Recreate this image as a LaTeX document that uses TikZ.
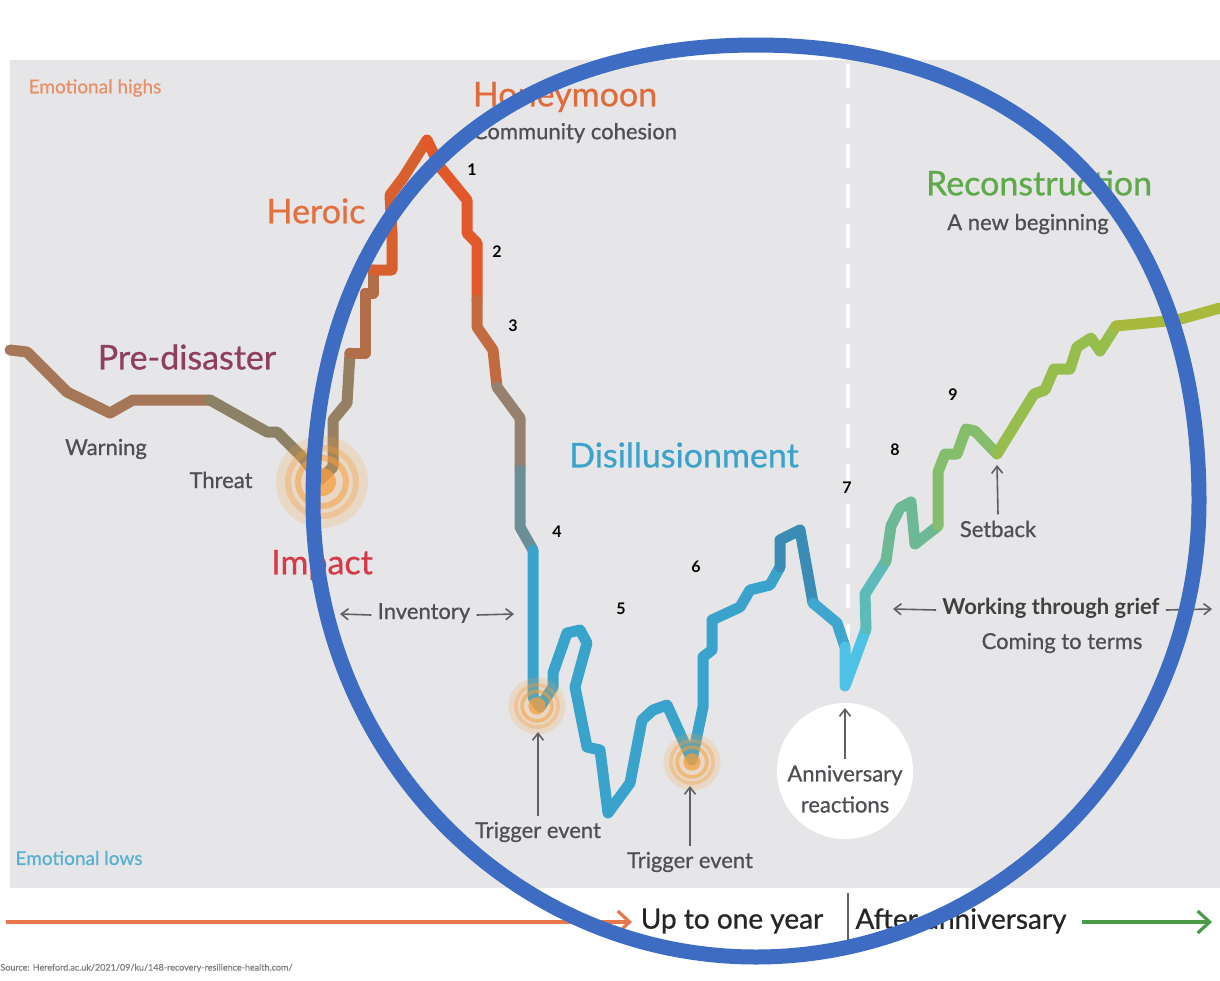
\documentclass[tikz,border=0pt]{standalone}
\usepackage{fontspec}
\setmainfont{Lato}[UprightFeatures={FakeBold=0.7}]
\usetikzlibrary{arrows.meta}
\definecolor{panel}{HTML}{E6E6E8}
\definecolor{txtgray}{HTML}{4E4F53}
\definecolor{arrgray}{HTML}{606064}
\definecolor{honey}{HTML}{E06B3A}
\definecolor{heroicc}{HTML}{E36E3E}
\definecolor{predc}{HTML}{8E3F5E}
\definecolor{impactc}{HTML}{D63A4A}
\definecolor{disc}{HTML}{3AA3CB}
\definecolor{reconc}{HTML}{5FA94B}
\definecolor{ringc}{HTML}{3D6CC2}
\definecolor{hic}{HTML}{E8906A}
\definecolor{loc}{HTML}{5AB0D0}
\definecolor{glowc}{HTML}{F5A040}
\definecolor{tlorange}{HTML}{E8784C}
\definecolor{tlgreen}{HTML}{4A9A4A}
\definecolor{cA}{HTML}{A57658}
\definecolor{cB}{HTML}{8C8066}
\definecolor{cC}{HTML}{958063}
\definecolor{cD}{HTML}{B26E48}
\definecolor{cE}{HTML}{D8602F}
\definecolor{cF}{HTML}{E2582A}
\definecolor{cG}{HTML}{C46A40}
\definecolor{cH}{HTML}{988070}
\definecolor{cI}{HTML}{6C8E98}
\definecolor{cJ}{HTML}{3AA3CC}
\definecolor{cK}{HTML}{3A8CB4}
\definecolor{cL}{HTML}{3FA6D0}
\definecolor{cM}{HTML}{4EC2E4}
\definecolor{cN}{HTML}{5CBAB8}
\definecolor{cO}{HTML}{6DB996}
\definecolor{cP}{HTML}{84BD6C}
\definecolor{cQ}{HTML}{97BE4C}
\definecolor{cR}{HTML}{A8B93C}
\newcommand{\myglow}[3]{%
  \fill[glowc, opacity=0.20] (#1,#2) circle[radius=#3*46];
  \draw[glowc, opacity=0.35, line width=#3*3pt] (#1,#2) circle[radius=#3*34];
  \draw[glowc, opacity=0.55, line width=#3*3pt] (#1,#2) circle[radius=#3*24];
  \fill[glowc, opacity=0.75] (#1,#2) circle[radius=#3*14];
}
\tikzset{
  curve/.style={line width=5.5pt, line join=round, line cap=round},
  biglab/.style={font=\fontsize{17}{20}\selectfont, inner sep=0pt},
  midlab/.style={font=\fontsize{11}{13}\selectfont, text=txtgray, inner sep=0pt},
  numlab/.style={font=\bfseries\fontsize{8}{9}\selectfont, text=black, inner sep=0pt},
  smalllab/.style={font=\fontsize{9.5}{11}\selectfont, inner sep=0pt},
  thinarrow/.style={-{Straight Barb[length=3.5pt,width=5.5pt]}, line width=0.8pt, draw=arrgray},
  tllab/.style={font=\fontsize{14}{16}\selectfont, text=black!85, inner sep=0pt},
  ring/.style={draw=ringc, line width=7.5pt},
}
\begin{document}
\begin{tikzpicture}[x=0.5pt,y=-0.5pt]
\useasboundingbox (0,0) rectangle (1220,980);
\fill[white] (0,0) rectangle (1220,980);
% panel
\fill[panel] (10,60) rectangle (1220,888);
% dashed divider
\draw[white, line width=1.6pt, dash pattern=on 12pt off 8pt] (848,64) -- (848,705);
% anniversary circle
\node[circle, fill=white, minimum size=68pt, inner sep=0pt] (anncirc) at (845,771) {};
% curve
\draw[curve, cA] (10,350) -- (27,352) -- (67,392) -- (110,413) -- (133,400) -- (210,400);
\draw[curve, cB] (210,400) -- (267,432) -- (277,432) -- (302,457) -- (320,480);
\draw[curve, cC] (320,480) -- (333,467) -- (333,420) -- (347,403) -- (350,353);
\draw[curve, cD] (350,353) -- (365,353) -- (365,293) -- (373,293) -- (373,270);
\draw[curve, cE] (373,270) -- (392,270) -- (392,233) -- (390,195) -- (403,178) -- (427,140);
\draw[curve, cF] (427,140) -- (440,167) -- (467,200) -- (467,233) -- (477,243) -- (477,300);
\draw[curve, cG] (477,300) -- (477,327) -- (493,350) -- (497,387);
\draw[curve, cH] (497,387) -- (520,418) -- (520,470);
\draw[curve, cI] (520,470) -- (520,527) -- (533,550);
\draw[curve, cJ] (533,550) -- (533,697) -- (540,707) -- (553,687) -- (553,673) -- (567,633) -- (580,630) -- (587,643) -- (575,687) -- (587,747) -- (600,750) -- (608,813) -- (630,783) -- (642,720) -- (653,710) -- (667,705) -- (692,760) -- (703,707) -- (703,657) -- (712,650) -- (712,620) -- (740,607) -- (750,590) -- (770,585) -- (780,567);
\draw[curve, cK] (780,567) -- (780,540) -- (800,530) -- (813,603);
\draw[curve, cL] (813,603) -- (837,623) -- (845,647);
\draw[curve, cM] (845,647) -- (845,686) -- (866,629);
\draw[curve, cN] (866,629) -- (865,594) -- (886,561);
\draw[curve, cO] (886,561) -- (891,526) -- (900,508) -- (911,502) -- (915,544) -- (938,526);
\draw[curve, cP] (938,526) -- (938,472) -- (945,454) -- (957,454) -- (966,429) -- (975,431) -- (997,454);
\draw[curve, cQ] (997,454) -- (1034,394) -- (1045,390) -- (1054,369) -- (1070,369) -- (1077,347) -- (1091,338) -- (1100,351) -- (1116,326);
\draw[curve, cR] (1116,326) -- (1177,320) -- (1220,308);
% glows
\myglow{322}{482}{1}
\myglow{537}{706}{0.62}
\myglow{692}{762}{0.62}
% corner labels
\node[smalllab, text=hic] (hi) at (95,88) {Emotional highs};
\node[smalllab, text=loc] (lo) at (79,858) {Emotional lows};
% stage labels
\node[biglab, text=honey] (honey) at (565,97) {Honeymoon};
\node[midlab] (cohes) at (575,133) {Community cohesion};
\node[biglab, text=heroicc] (heroic) at (316,211) {Heroic};
\node[biglab, text=predc] (pred) at (187,357) {Pre-disaster};
\node[midlab] (warn) at (106,449) {Warning};
\node[midlab] (threat) at (221,480) {Threat};
\node[biglab, text=impactc] (impact) at (322,565) {Impact};
\node[biglab, text=disc] (dis) at (684,455) {Disillusionment};
\node[biglab, text=reconc] (recon) at (1039,183) {Reconstruction};
\node[midlab] (newb) at (1028,224) {A new beginning};
% inventory
\node[midlab] (inv) at (424,613) {Inventory};
\coordinate (invL) at (340,614);
\coordinate (invR) at (514,614);
\draw[thinarrow] ([xshift=-3pt,yshift=-1pt]inv.west) -- (invL);
\draw[thinarrow] ([xshift=3pt,yshift=-1pt]inv.east) -- (invR);
% working through grief
\node[midlab, font=\bfseries\fontsize{11}{13}\selectfont, text=black!75] (work) at (1051,608) {Working through grief};
\node[midlab] (terms) at (1062,643) {Coming to terms};
\coordinate (workL) at (893,609);
\coordinate (workR) at (1212,609);
\draw[thinarrow] ([xshift=-3pt,yshift=-1pt]work.west) -- (workL);
\draw[thinarrow] ([xshift=3pt,yshift=-1pt]work.east) -- (workR);
% setback
\node[midlab] (setb) at (998,529) {Setback};
\coordinate (setT) at (997,465);
\draw[thinarrow] ([yshift=3pt]setb.north) -- (setT);
% triggers
\node[midlab] (trig1) at (538,832) {Trigger event};
\coordinate (trig1T) at (538,732);
\draw[thinarrow] ([yshift=3pt]trig1.north) -- (trig1T);
\node[midlab] (trig2) at (690,862) {Trigger event};
\coordinate (trig2T) at (690,786);
\draw[thinarrow] ([yshift=3pt]trig2.north) -- (trig2T);
% anniversary
\node[midlab, align=center, font=\fontsize{11}{15.5}\selectfont] (anntext) at (845,789) {Anniversary\\reactions};
\coordinate (annT) at (845,708);
\draw[thinarrow] ([yshift=3pt]anntext.north) -- (annT);
% numbers
\node[numlab] (n1) at (472,170) {1};
\node[numlab] (n2) at (497,252) {2};
\node[numlab] (n3) at (513,326) {3};
\node[numlab] (n4) at (557,532) {4};
\node[numlab] (n5) at (621,609) {5};
\node[numlab] (n6) at (696,567) {6};
\node[numlab] (n7) at (847,488) {7};
\node[numlab] (n8) at (895,450) {8};
\node[numlab] (n9) at (953,395) {9};
% timeline
\coordinate (tlA) at (6,922);
\coordinate (tlB) at (632,922);
\draw[tlorange, line width=1.6pt, -{Straight Barb[length=6pt,width=11pt]}] (tlA) -- (tlB);
\node[tllab] (year) at (732,921) {Up to one year};
\coordinate (sepT) at (848,893);
\coordinate (sepB) at (848,950);
\draw[arrgray, line width=0.7pt] (sepT) -- (sepB);
\node[tllab] (after) at (961,921) {After anniversary};
\coordinate (tgA) at (1082,922);
\coordinate (tgB) at (1212,922);
\draw[tlgreen, line width=1.6pt, -{Straight Barb[length=6pt,width=11pt]}] (tgA) -- (tgB);
% source
\node[anchor=west, inner sep=0pt, font=\fontsize{4.5}{5}\selectfont, text=black!50] (src) at (0,968) {Source: Hereford.ac.uk/2021/09/ku/148-recovery-resilience-health.com/};
% ring
\draw[ring] (313,501) .. controls (313,218.3) and (481.3,45) .. (756,45)
  .. controls (1030.7,45) and (1199,218.3) .. (1199,501)
  .. controls (1199,752.8) and (1000.7,957) .. (756,957)
  .. controls (511.3,957) and (313,752.8) .. (313,501) -- cycle;
\end{tikzpicture}
\end{document}
